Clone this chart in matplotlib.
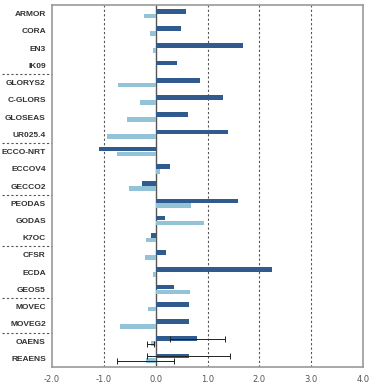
import matplotlib.pyplot as plt
import numpy as np

products = ['ARMOR', 'CORA', 'EN3', 'IK09',
            'GLORYS2', 'C-GLORS', 'GLOSEAS', 'UR025.4',
            'ECCO-NRT', 'ECCOV4', 'GECCO2',
            'PEODAS', 'GODAS', 'K7OC',
            'CFSR', 'ECDA', 'GEOS5',
            'MOVEC', 'MOVEG2',
            'OAENS', 'REAENS']
dark_vals = [0.59, 0.48, 1.68, 0.42,
             0.86, 1.29, 0.63, 1.40,
             -1.09, 0.27, -0.26,
             1.58, 0.18, -0.09,
             0.20, 2.24, 0.36,
             0.64, 0.65,
             0.80, 0.64]
light_vals = [-0.22, -0.11, -0.06, 0.0,
              -0.72, -0.30, -0.56, -0.93,
              -0.74, 0.08, -0.51,
              0.68, 0.94, -0.19,
              -0.21, -0.06, 0.66,
              -0.14, -0.69,
              -0.10, -0.19]
dark_err = [0] * 19 + [0.53, 0.80]
light_err = [0] * 19 + [0.07, 0.55]
group_breaks = [4, 8, 11, 14, 17, 19]
xticks = [-2.0, -1.0, 0.0, 1.0, 2.0, 3.0, 4.0]

dark = '#2f5b8f'
light = '#92c3d7'

fig = plt.figure(figsize=(3.78, 3.87), dpi=100)
ax = fig.add_axes([0.1376, 0.0517, 0.8228, 0.9353])

y = np.arange(len(products))
h = 0.27
ax.barh(y - 0.14, dark_vals, height=h, color=dark, zorder=3)
ax.barh(y + 0.14, light_vals, height=h, color=light, zorder=3)

for i in range(len(products)):
    if dark_err[i] > 0:
        ax.errorbar(dark_vals[i], y[i] - 0.14, xerr=dark_err[i], fmt='none',
                    ecolor='#222222', elinewidth=0.7, capsize=2, capthick=0.7, zorder=4)
    if light_err[i] > 0:
        ax.errorbar(light_vals[i], y[i] + 0.14, xerr=light_err[i], fmt='none',
                    ecolor='#222222', elinewidth=0.7, capsize=2, capthick=0.7, zorder=4)

ax.set_xlim(-2, 4)
ax.set_ylim(len(products) - 0.5, -0.5)

for xv in [-1, 1, 2, 3]:
    ax.axvline(xv, color='#555555', linestyle=(0, (2, 2)), linewidth=0.8, zorder=1)
ax.axvline(0, color='#555555', linewidth=1.0, zorder=2)

ax.set_yticks(y)
ax.set_yticklabels(products, fontsize=6, fontweight='bold', color='#333333',
                   family='Liberation Sans')
ax.set_xticks(xticks)
ax.set_xticklabels(['%.1f' % v for v in xticks], fontsize=6, color='#555555')
ax.tick_params(axis='both', length=0, pad=6)
ax.tick_params(axis='y', pad=4.5)

for s in ax.spines.values():
    s.set_color('#999999')
    s.set_linewidth(1.2)

# dashed separators between groups, in the label area
for b in group_breaks:
    ax.plot([-0.16, 0.0], [b - 0.5, b - 0.5], transform=ax.get_yaxis_transform(),
            color='#555555', linestyle=(0, (2, 2)), linewidth=0.8, clip_on=False)

fig.savefig('out.png', dpi=100)
